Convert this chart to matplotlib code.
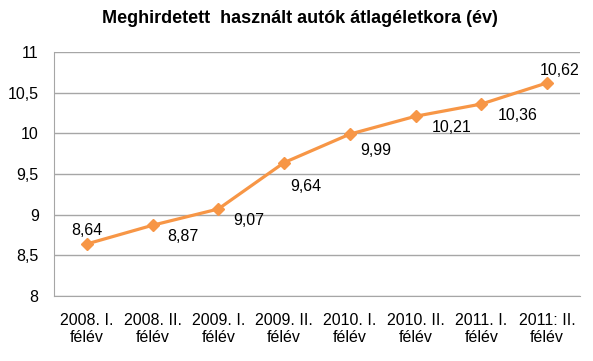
import matplotlib.pyplot as plt

plt.rcParams['font.family'] = ['Liberation Sans', 'DejaVu Sans']

categories = ["2008. I.\nfélév", "2008. II.\nfélév", "2009. I.\nfélév", "2009. II.\nfélév",
              "2010. I.\nfélév", "2010. II.\nfélév", "2011. I.\nfélév", "2011: II.\nfélév"]
values = [8.64, 8.87, 9.07, 9.64, 9.99, 10.21, 10.36, 10.62]
labels = ["8,64", "8,87", "9,07", "9,64", "9,99", "10,21", "10,36", "10,62"]
# label offsets in points (dx, dy)
offsets = [(0, 10), (22, -8), (22, -8), (16, -17), (19, -12), (26, -8), (26, -8), (9, 9)]

fig = plt.figure(figsize=(5.93, 3.61), dpi=100)
ax = fig.add_axes([0.091, 0.18, 0.887, 0.676])

x = range(len(values))
ax.plot(x, values, color="#F79646", lw=2.3, marker="D", ms=6, zorder=3)
for i, v in enumerate(values):
    ax.annotate(labels[i], (i, v), xytext=offsets[i], textcoords="offset points",
                ha="center", va="center", fontsize=11.5)

ax.set_xlim(-0.5, len(values) - 0.5)
ax.set_ylim(8, 11)
ax.set_yticks([8, 8.5, 9, 9.5, 10, 10.5, 11])
ax.set_yticklabels(["8", "8,5", "9", "9,5", "10", "10,5", "11"], fontsize=11.5)
ax.set_xticks(list(x))
ax.set_xticklabels(categories, fontsize=11.5)
ax.tick_params(length=0)
ax.tick_params(axis='y', pad=11)
ax.tick_params(axis='x', pad=12)
ax.yaxis.grid(True, color="#a6a6a6", lw=1)
ax.set_axisbelow(True)
for s in ["top", "right"]:
    ax.spines[s].set_visible(False)
ax.spines["left"].set_color("#a6a6a6")
ax.spines["bottom"].set_color("#a6a6a6")

fig.text(0.505, 0.95, "Meghirdetett  használt autók átlagéletkora (év)",
         ha="center", va="center", fontsize=13, fontweight="bold")

fig.savefig("out.png", dpi=100)
